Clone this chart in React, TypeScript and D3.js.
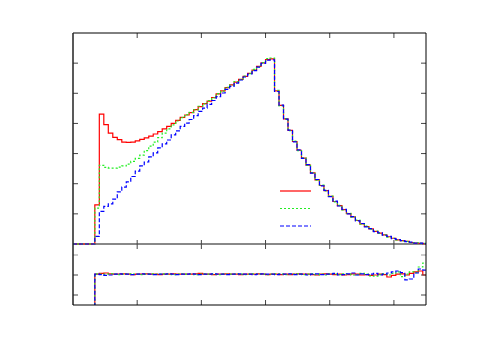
import * as d3 from "d3"

// histogram binning (x axis units)
const binStart = 0.34
const binWidth = 0.07

const redHist = [1.30,4.31,3.96,3.68,3.54,3.46,3.38,3.37,3.38,3.42,3.47,3.52,3.58,3.65,3.73,3.82,3.90,4.00,4.10,4.20,4.28,4.36,4.46,4.56,4.66,4.74,4.86,4.98,5.08,5.19,5.28,5.37,5.46,5.56,5.66,5.77,5.89,6.01,6.12,6.14,5.08,4.60,4.15,3.77,3.40,3.11,2.85,2.62,2.36,2.13,1.94,1.77,1.58,1.41,1.27,1.14,1.01,0.90,0.78,0.67,0.58,0.50,0.42,0.36,0.30,0.24,0.19,0.14,0.11,0.09,0.05,0.03,0.02,0.01]
const greenHist = [1.19,2.61,2.54,2.52,2.52,2.55,2.59,2.65,2.74,2.84,2.95,3.10,3.25,3.38,3.53,3.68,3.82,3.95,4.08,4.19,4.29,4.37,4.45,4.57,4.65,4.76,4.85,4.99,5.07,5.20,5.27,5.39,5.45,5.57,5.65,5.79,5.88,6.02,6.15,6.17,5.10,4.58,4.16,3.76,3.41,3.10,2.86,2.61,2.37,2.12,1.95,1.76,1.59,1.40,1.28,1.13,1.02,0.89,0.79,0.66,0.59,0.49,0.43,0.35,0.30,0.23,0.19,0.14,0.10,0.09,0.05,0.04,0.02,0.02]
const blueHist = [0.25,1.08,1.25,1.33,1.49,1.73,1.89,2.06,2.24,2.42,2.59,2.72,2.89,3.02,3.19,3.32,3.45,3.62,3.75,3.90,4.01,4.13,4.26,4.40,4.51,4.63,4.76,4.89,5.01,5.13,5.23,5.34,5.44,5.54,5.64,5.75,5.87,5.99,6.10,6.11,5.06,4.61,4.14,3.78,3.39,3.12,2.84,2.63,2.35,2.14,1.93,1.78,1.57,1.42,1.26,1.15,1.00,0.91,0.77,0.68,0.57,0.51,0.41,0.37,0.29,0.25,0.18,0.15,0.11,0.08,0.06,0.03,0.03,0.01]

const redRatio = [1.02,1.04,1.05,1.03,1.02,1.02,1.03,1.02,1.01,1.02,1.02,1.03,1.02,1.02,1.01,1.02,1.02,1.03,1.02,1.02,1.02,1.02,1.03,1.04,1.02,1.02,1.01,1.02,1.02,1.03,1.02,1.02,1.01,1.02,1.02,1.02,1.03,1.02,1.01,1.02,1.02,1.01,1.02,1.01,1.02,1.03,1.02,1.02,1.01,1.00,1.02,1.03,1.02,1.01,1.02,1.00,1.01,1.03,1.02,1.00,1.01,0.99,1.00,1.02,1.01,0.95,0.99,1.02,1.03,1.00,1.04,1.08,1.10,1.00]
const greenRatio = [1.03,1.02,1.02,1.03,1.02,1.01,1.02,1.03,1.02,1.02,1.01,1.02,1.03,1.02,1.02,1.03,1.02,1.01,1.02,1.03,1.02,1.02,1.01,1.02,1.03,1.02,1.02,1.01,1.03,1.02,1.02,1.03,1.02,1.01,1.02,1.03,1.02,1.02,1.01,1.02,1.03,1.02,1.01,1.02,1.02,1.03,1.01,1.02,1.03,1.01,1.02,1.00,1.03,1.02,1.01,1.03,1.02,1.00,1.01,1.04,1.02,0.98,0.97,1.01,1.03,1.00,1.04,1.08,0.96,1.02,1.08,1.06,1.20,1.30]
const blueRatio = [1.02,1.01,0.99,1.00,1.02,1.03,1.02,1.02,1.01,1.02,1.03,1.02,1.02,1.01,1.02,1.02,1.03,1.02,1.01,1.02,1.02,1.03,1.02,1.01,1.02,1.02,1.03,1.02,1.02,1.01,1.02,1.02,1.03,1.02,1.02,1.01,1.02,1.03,1.02,1.02,1.01,1.02,1.02,1.03,1.01,1.02,1.02,1.00,1.02,1.03,1.01,1.02,1.02,1.04,1.00,1.01,1.03,1.05,1.00,1.03,1.01,1.02,1.04,1.00,1.02,1.05,1.08,1.10,1.06,0.88,0.90,1.05,1.15,1.12]

const xTicks = [1, 2, 3, 4, 5]
const yTicks = [1, 2, 3, 4, 5, 6]
const ratioTicks = [0.5, 1, 1.5]

const series = [
  { name: "red", hist: redHist, ratio: redRatio, color: "#ff0000", dash: "none" },
  { name: "green", hist: greenHist, ratio: greenRatio, color: "#22ee22", dash: "2,2" },
  { name: "blue", hist: blueHist, ratio: blueRatio, color: "#0000ff", dash: "4,2" },
]

const L = 73, R = 426, T = 33, M = 244, B = 305

const x = d3.scaleLinear().domain([0, 5.5]).range([L, R])
const y = d3.scaleLinear().domain([0, 7]).range([M, T])
const yr = d3.scaleLinear().domain([0.25, 1.775]).range([B, M])

const toPoints = (vals: number[]) => {
  const pts: [number, number][] = [[0, 0]]
  vals.forEach((v, i) => pts.push([binStart + i * binWidth, v]))
  pts.push([binStart + vals.length * binWidth, vals[vals.length - 1]])
  return pts
}

export default function App() {
  const histLine = d3.line<[number, number]>()
    .x((d) => x(d[0]))
    .y((d) => y(d[1]))
    .curve(d3.curveStepAfter)
  const ratioLine = d3.line<[number, number]>()
    .x((d) => x(d[0]))
    .y((d) => yr(d[1]))
    .curve(d3.curveStepAfter)

  const tk = "#444"
  return (
    <svg width={500} height={350} style={{ position: "absolute", left: 0, top: 0, background: "#fff" }}>
      <defs>
        <clipPath id="top"><rect x={L} y={T} width={R - L} height={M - T + 1} /></clipPath>
        <clipPath id="bot"><rect x={L} y={M + 1} width={R - L} height={B - M - 1} /></clipPath>
      </defs>
      <line x1={L} x2={R} y1={M} y2={M} stroke="#888" strokeWidth={2} />
      {series.map((s) => (
        <g key={s.name}>
          <path d={histLine(toPoints(s.hist)) || ""} fill="none" stroke={s.color} strokeWidth={1.2}
            strokeDasharray={s.dash} clipPath="url(#top)" />
          <path d={ratioLine(toPoints(s.ratio)) || ""} fill="none" stroke={s.color} strokeWidth={1.2}
            strokeDasharray={s.dash} clipPath="url(#bot)" />
        </g>
      ))}
      {/* ticks */}
      {xTicks.map((t) => (
        <g key={"x" + t} stroke={tk} strokeWidth={1}>
          <line x1={x(t)} x2={x(t)} y1={T} y2={T + 5} />
          <line x1={x(t)} x2={x(t)} y1={M - 4} y2={M + 5} />
          <line x1={x(t)} x2={x(t)} y1={B} y2={B - 5} />
        </g>
      ))}
      {yTicks.map((t) => (
        <g key={"y" + t} stroke={tk} strokeWidth={1}>
          <line x1={L} x2={L + 5} y1={y(t)} y2={y(t)} />
          <line x1={R} x2={R - 5} y1={y(t)} y2={y(t)} />
        </g>
      ))}
      {ratioTicks.map((t) => (
        <g key={"r" + t} stroke={t === 1.5 ? "#999" : tk} strokeWidth={1}>
          <line x1={L} x2={L + 5} y1={yr(t)} y2={yr(t)} />
          <line x1={R} x2={R - 5} y1={yr(t)} y2={yr(t)} />
        </g>
      ))}
      {/* frame */}
      <line x1={L} x2={R} y1={T} y2={T} stroke="#000" strokeWidth={1} />
      <line x1={L} x2={L} y1={T} y2={B} stroke="#222" strokeWidth={1.5} />
      <line x1={R} x2={R} y1={T} y2={B} stroke="#000" strokeWidth={1} />
      <line x1={L} x2={R} y1={B} y2={B} stroke="#000" strokeWidth={1} />
      {/* legend */}
      {series.map((s, i) => (
        <line key={"lg" + s.name} x1={280} x2={311} y1={191 + i * 17.5} y2={191 + i * 17.5}
          stroke={s.color} strokeWidth={1.2} strokeDasharray={s.dash} />
      ))}
    </svg>
  )
}
